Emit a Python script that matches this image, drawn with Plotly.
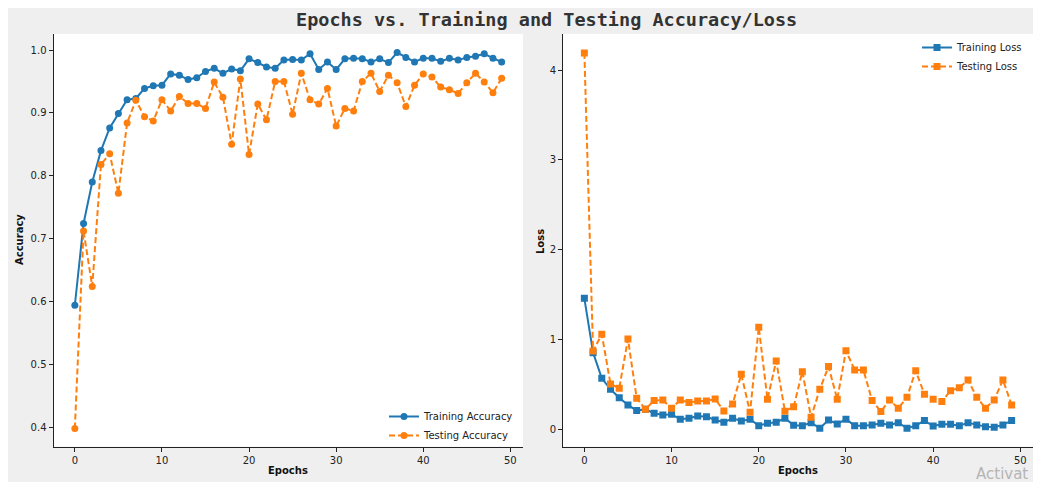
import plotly.graph_objects as go

epochs = list(range(50))

train_acc = [0.594, 0.724, 0.790, 0.840, 0.876, 0.899, 0.921, 0.923, 0.939, 0.943,
             0.944, 0.962, 0.960, 0.953, 0.956, 0.966, 0.971, 0.963, 0.970, 0.967,
             0.986, 0.980, 0.973, 0.971, 0.984, 0.985, 0.984, 0.994, 0.969, 0.981,
             0.969, 0.986, 0.987, 0.986, 0.981, 0.986, 0.980, 0.996, 0.988, 0.981,
             0.987, 0.987, 0.982, 0.987, 0.984, 0.988, 0.990, 0.994, 0.987, 0.981]

test_acc = [0.398, 0.712, 0.624, 0.818, 0.835, 0.772, 0.884, 0.920, 0.894, 0.887,
            0.921, 0.903, 0.926, 0.915, 0.915, 0.907, 0.949, 0.925, 0.850, 0.954,
            0.834, 0.914, 0.889, 0.950, 0.950, 0.898, 0.963, 0.921, 0.914, 0.939,
            0.879, 0.907, 0.903, 0.950, 0.963, 0.934, 0.960, 0.948, 0.910, 0.944,
            0.962, 0.957, 0.941, 0.937, 0.931, 0.948, 0.963, 0.949, 0.932, 0.955]

train_loss = [1.463, 0.859, 0.574, 0.452, 0.359, 0.278, 0.215, 0.230, 0.185, 0.167,
              0.174, 0.119, 0.130, 0.156, 0.148, 0.111, 0.085, 0.130, 0.100, 0.119,
              0.048, 0.074, 0.085, 0.130, 0.052, 0.048, 0.081, 0.019, 0.111, 0.067,
              0.119, 0.048, 0.048, 0.056, 0.074, 0.056, 0.081, 0.019, 0.048, 0.104,
              0.044, 0.063, 0.063, 0.048, 0.081, 0.056, 0.037, 0.030, 0.056, 0.104]

test_loss = [4.19, 0.878, 1.063, 0.511, 0.463, 1.011, 0.352, 0.230, 0.326, 0.333,
             0.241, 0.333, 0.304, 0.322, 0.322, 0.344, 0.211, 0.289, 0.619, 0.196,
             1.141, 0.341, 0.767, 0.208, 0.259, 0.648, 0.141, 0.452, 0.704, 0.341,
             0.881, 0.667, 0.667, 0.326, 0.204, 0.333, 0.241, 0.363, 0.659, 0.396,
             0.341, 0.315, 0.437, 0.470, 0.556, 0.363, 0.241, 0.333, 0.556, 0.278]

acc_ticks = [0.4, 0.5, 0.6, 0.7, 0.8, 0.9, 1.0]
loss_ticks = [0, 1, 2, 3, 4]
epoch_ticks = [0, 10, 20, 30, 40, 50]

BLUE = "#1f77b4"
ORANGE = "#ff7f0e"
W, H = 1041, 482
OFF = 8  # page body margin offset of the figure inside the window


def px(x):
    return (x - OFF) / W


def py(y):
    return 1 - (y - OFF) / H


fig = go.Figure()

fig.add_trace(go.Scatter(x=epochs, y=train_acc, mode="lines+markers", name="Training Accuracy",
                         line=dict(color=BLUE, width=2), marker=dict(symbol="circle", size=7, color=BLUE),
                         xaxis="x", yaxis="y", legend="legend"))
fig.add_trace(go.Scatter(x=epochs, y=test_acc, mode="lines+markers", name="Testing Accuracy",
                         line=dict(color=ORANGE, width=2, dash="6px,3px"),
                         marker=dict(symbol="circle", size=7, color=ORANGE),
                         xaxis="x", yaxis="y", legend="legend"))
fig.add_trace(go.Scatter(x=epochs, y=train_loss, mode="lines+markers", name="Training Loss",
                         line=dict(color=BLUE, width=2), marker=dict(symbol="square", size=7, color=BLUE),
                         xaxis="x2", yaxis="y2", legend="legend2"))
fig.add_trace(go.Scatter(x=epochs, y=test_loss, mode="lines+markers", name="Testing Loss",
                         line=dict(color=ORANGE, width=2, dash="6px,3px"),
                         marker=dict(symbol="square", size=7, color=ORANGE),
                         xaxis="x2", yaxis="y2", legend="legend2"))

tickfont = dict(family="DejaVu Sans", size=10, color="#222")
axis_common = dict(showline=True, linecolor="#222", linewidth=1, showgrid=False, zeroline=False,
                   ticks="outside", ticklen=4, tickcolor="#222", tickfont=tickfont, automargin=False)

ydom = [py(446.7), py(34)]
fig.update_layout(
    width=W, height=H,
    margin=dict(l=0, r=0, t=0, b=0),
    paper_bgcolor="#efefef",
    plot_bgcolor="white",
    showlegend=True,
    xaxis=dict(domain=[px(53.5), px(523)], range=[-2.45, 51.45], tickvals=epoch_ticks,
               anchor="y", **axis_common),
    yaxis=dict(domain=ydom, range=[0.369, 1.0255], tickvals=acc_ticks,
               ticktext=[f"{v:.1f}" for v in acc_ticks], anchor="x", **axis_common),
    xaxis2=dict(domain=[px(563), px(1033)], range=[-2.45, 51.45], tickvals=epoch_ticks,
                anchor="y2", **axis_common),
    yaxis2=dict(domain=ydom, range=[-0.186, 4.4], tickvals=loss_ticks, anchor="x2", **axis_common),
    legend=dict(x=px(519), y=py(450), xanchor="right", yanchor="bottom",
                bgcolor="rgba(0,0,0,0)", borderwidth=0, itemwidth=30,
                font=dict(family="DejaVu Sans", size=10, color="#222")),
    legend2=dict(x=px(1028), y=py(33), xanchor="right", yanchor="top",
                 bgcolor="rgba(0,0,0,0)", borderwidth=0, itemwidth=30,
                 font=dict(family="DejaVu Sans", size=10, color="#222")),
    annotations=[
        dict(text="<b>Epochs vs. Training and Testing Accuracy/Loss</b>", x=px(546), y=py(19),
             xref="paper", yref="paper", xanchor="center", yanchor="middle", showarrow=False,
             font=dict(family="DejaVu Sans Mono", size=18.5, color="#333")),
        dict(text="<b>Accuracy</b>", x=px(19), y=py(240), xref="paper", yref="paper",
             xanchor="center", yanchor="middle", showarrow=False, textangle=-90,
             font=dict(family="DejaVu Sans", size=10, color="#111")),
        dict(text="<b>Epochs</b>", x=px(288), y=py(470), xref="paper", yref="paper",
             xanchor="center", yanchor="middle", showarrow=False,
             font=dict(family="DejaVu Sans", size=10, color="#111")),
        dict(text="<b>Loss</b>", x=px(540), y=py(242), xref="paper", yref="paper",
             xanchor="center", yanchor="middle", showarrow=False, textangle=-90,
             font=dict(family="DejaVu Sans", size=10, color="#111")),
        dict(text="<b>Epochs</b>", x=px(798), y=py(470), xref="paper", yref="paper",
             xanchor="center", yanchor="middle", showarrow=False,
             font=dict(family="DejaVu Sans", size=10, color="#111")),
        dict(text="Activat", x=px(974), y=py(474), xref="paper", yref="paper",
             xanchor="left", yanchor="middle", showarrow=False,
             font=dict(family="DejaVu Sans", size=15, color="#b5b5b5")),
    ],
)

fig.write_html("out.html")
